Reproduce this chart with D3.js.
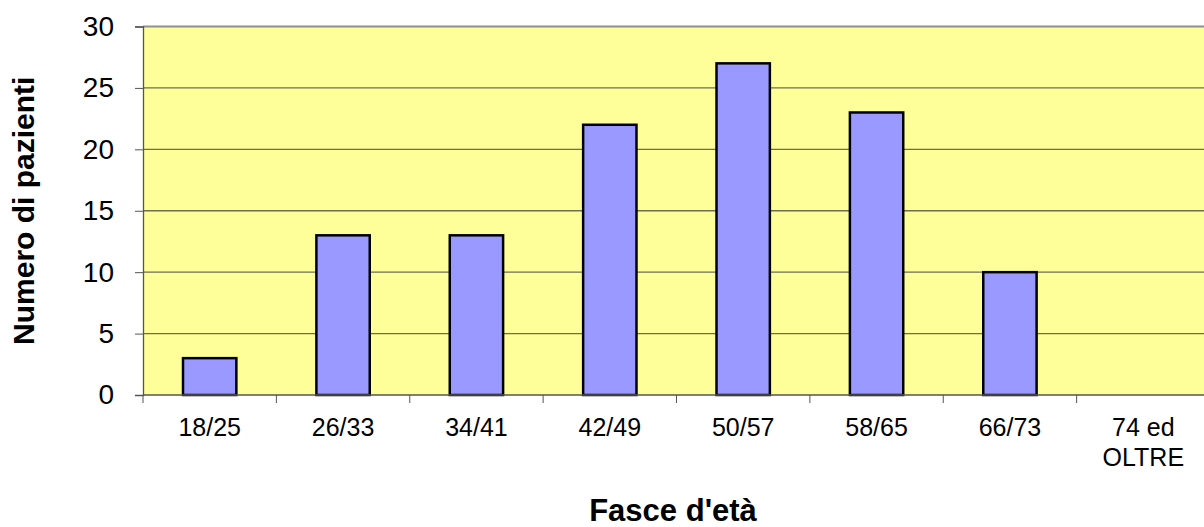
<!DOCTYPE html>
<html>
<head>
<meta charset="utf-8">
<script src="https://cdn.jsdelivr.net/npm/d3@7"></script>
<style>
  body { margin: 0; background: #fff; }
  text { font-family: "Liberation Sans", Arial, sans-serif; }
</style>
</head>
<body>
<div id="chart"></div>
<script>
const categories = ["18/25", "26/33", "34/41", "42/49", "50/57", "58/65", "66/73", "74 ed|OLTRE"];
const values = [3, 13, 13, 22, 27, 23, 10, 0];
const yTicks = [0, 5, 10, 15, 20, 25, 30];

const W = 1204, H = 527;
const margin = {top: 26.5, right: -6, bottom: 132, left: 143},
      width = W - margin.left - margin.right,
      height = H - margin.top - margin.bottom;

const svg = d3.select("#chart")
  .append("svg")
  .attr("width", W)
  .attr("height", H);

const g = svg.append("g")
  .attr("transform", `translate(${margin.left},${margin.top})`);

const x = d3.scaleBand()
  .domain(categories)
  .range([0, width])
  .paddingInner(0.6)
  .paddingOuter(0.3);

const xb = d3.scaleBand().domain(categories).range([0, width]); // tick boundaries

const y = d3.scaleLinear()
  .domain([0, 30])
  .range([height, 0]);

// plot background
g.append("rect")
  .attr("width", width)
  .attr("height", height)
  .attr("fill", "#ffff99");

// gridlines
g.selectAll(".grid")
  .data(yTicks.filter(d => d > 0))
  .enter()
  .append("line")
  .attr("x1", 0)
  .attr("x2", width)
  .attr("y1", d => y(d))
  .attr("y2", d => y(d))
  .attr("stroke", d => d === 30 ? "#909090" : "#6e6e50")
  .attr("stroke-width", d => d === 30 ? 2 : 1.3);

// bars
g.selectAll(".bar")
  .data(values)
  .enter()
  .append("rect")
  .attr("class", "bar")
  .attr("x", (d, i) => x(categories[i]))
  .attr("y", d => y(d))
  .attr("width", x.bandwidth())
  .attr("height", d => height - y(d))
  .attr("fill", d => d > 0 ? "#9999ff" : "none")
  .attr("stroke", d => d > 0 ? "#000" : "none")
  .attr("stroke-width", 2.5);

// y axis
const yAxis = g.append("g")
  .call(d3.axisLeft(y).tickValues(yTicks).tickSize(8).tickPadding(21));
yAxis.select(".domain").attr("stroke", "#555").attr("stroke-width", 1.3);
yAxis.selectAll(".tick line").attr("stroke", "#555");
yAxis.selectAll(".tick text")
  .attr("font-size", 28)
  .attr("fill", "#000")
  .attr("font-family", "Liberation Sans, Arial, sans-serif");

// x axis
const xg = g.append("g").attr("transform", `translate(0,${height})`);
xg.append("line")
  .attr("x1", 0).attr("x2", width)
  .attr("stroke", "#555").attr("stroke-width", 1.3);
xg.selectAll(".xtick")
  .data(categories)
  .enter()
  .append("line")
  .attr("x1", d => xb(d)).attr("x2", d => xb(d))
  .attr("y1", 0).attr("y2", 8)
  .attr("stroke", "#555");

const xl = xg.selectAll(".xlabel")
  .data(categories)
  .enter()
  .append("text")
  .attr("text-anchor", "middle")
  .attr("font-size", 25)
  .attr("fill", "#000");
xl.each(function(d) {
  const parts = d.split("|");
  const t = d3.select(this);
  parts.forEach((p, i) => {
    t.append("tspan")
      .attr("x", xb(d) + xb.bandwidth() / 2)
      .attr("y", 41 + i * 30)
      .text(p);
  });
});

// axis titles
svg.append("text")
  .attr("transform", `translate(34,${margin.top + height / 2}) rotate(-90)`)
  .attr("text-anchor", "middle")
  .attr("font-size", 30)
  .attr("font-weight", "bold")
  .text("Numero di pazienti");

svg.append("text")
  .attr("x", 673)
  .attr("y", 521)
  .attr("text-anchor", "middle")
  .attr("font-size", 31)
  .attr("font-weight", "bold")
  .text("Fasce d'età");
</script>
</body>
</html>
